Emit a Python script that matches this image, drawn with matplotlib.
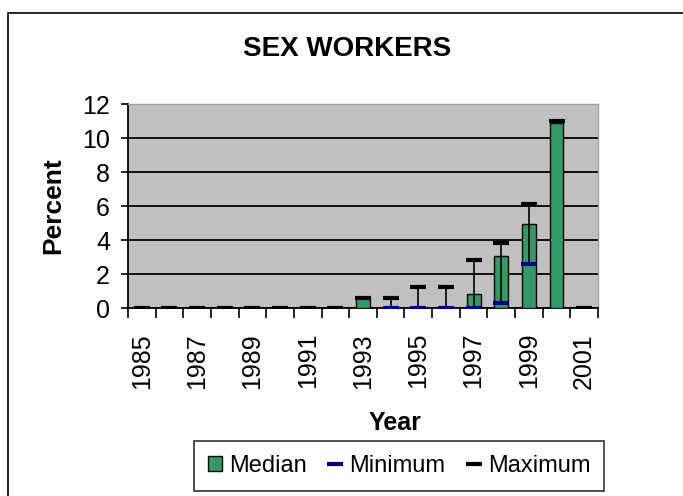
import numpy as np
import matplotlib
matplotlib.use("Agg")
from matplotlib import pyplot as plt
from matplotlib.patches import Rectangle
from matplotlib.lines import Line2D

plt.rcParams['font.family'] = ['Liberation Sans', 'DejaVu Sans']

years = list(range(1985, 2002))
median = [0, 0, 0, 0, 0, 0, 0, 0, 0.6, 0, 0, 0, 0.8, 3.05, 4.95, 10.9, 0]
minimum = [np.nan] * 9 + [0, 0, 0, 0, 0.3, 2.6, np.nan, np.nan]
maximum = [0, 0, 0, 0, 0, 0, 0, 0, 0.6, 0.6, 1.25, 1.25, 2.85, 3.8, 6.1, 11.0, 0]

GREEN = "#339966"
BLUE = "#000080"

fig = plt.figure(figsize=(6.83, 4.96), dpi=100)
fig.patches.append(Rectangle((8 / 683, -0.01), 1.0, 1 - 13 / 496 + 0.01,
                             transform=fig.transFigure, fill=False,
                             edgecolor="black", linewidth=1.2))
ax = fig.add_axes([128 / 683, 1 - 308 / 496, 470 / 683, 204 / 496])
ax.set_facecolor("#C0C0C0")

x = np.arange(len(years))
ax.bar(x, median, width=0.5, color=GREEN, edgecolor="black", linewidth=1, zorder=3)

mn = np.array(minimum, dtype=float)
mx = np.array(maximum, dtype=float)
has = ~np.isnan(mn)
ax.vlines(x[has], mn[has], mx[has], color="black", linewidth=1.2, zorder=4)
ax.plot(x, mn, linestyle="none", marker="_", markersize=11, mew=3, color=BLUE, zorder=5)
ax.plot(x, mx, linestyle="none", marker="_", markersize=11, mew=3, color="black", zorder=5)

ax.set_xlim(-0.5, len(years) - 0.5)
ax.set_ylim(0, 12)
ax.set_yticks(range(0, 13, 2))
ax.yaxis.grid(True, color="black", linewidth=1.3, zorder=1)
ax.set_axisbelow(True)

ax.set_xticks(np.arange(-0.5, len(years), 1), minor=False)
ax.set_xticklabels([])
ax.set_xticks(x[::2], minor=True)
ax.set_xticklabels([str(y) for y in years[::2]], minor=True, rotation=90, fontsize=18)
ax.tick_params(axis="x", which="major", direction="out", length=7, width=1.2)
ax.tick_params(axis="x", which="minor", length=0, pad=18)
ax.tick_params(axis="y", direction="out", length=5, width=1.2, labelsize=18, pad=8)

for side in ["top", "right"]:
    ax.spines[side].set_color("#A0A0A0")
    ax.spines[side].set_linewidth(1)
for side in ["left", "bottom"]:
    ax.spines[side].set_linewidth(1.3)

fig.text(347 / 683, 1 - 49 / 496, "SEX WORKERS", fontsize=20, fontweight="bold",
         ha="center", va="center")
fig.text(53 / 683, 1 - 206 / 496, "Percent", fontsize=19, fontweight="bold",
         rotation=90, ha="center", va="center")
fig.text(395 / 683, 1 - 423 / 496, "Year", fontsize=18, fontweight="bold",
         ha="center", va="center")

handles = [
    Rectangle((0, 0), 1, 1, facecolor=GREEN, edgecolor="black"),
    Line2D([], [], linestyle="none", marker="_", markersize=11, mew=3, color=BLUE),
    Line2D([], [], linestyle="none", marker="_", markersize=11, mew=3, color="black"),
]
leg = fig.legend(handles, ["Median", "Minimum", "Maximum"], ncol=3,
                 loc="center", bbox_to_anchor=(399 / 683, 1 - 466 / 496),
                 fontsize=17, frameon=True, fancybox=False, edgecolor="black",
                 handlelength=0.6, handleheight=0.6, handletextpad=0.3,
                 columnspacing=0.9, borderpad=0.6)
leg.get_frame().set_linewidth(1.2)

fig.savefig("out.png", dpi=100)
